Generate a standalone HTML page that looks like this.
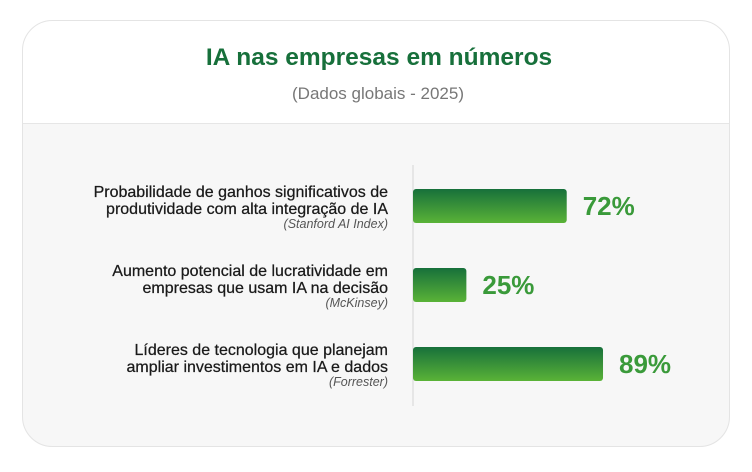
<!DOCTYPE html>
<html><head><meta charset="utf-8"><style>
body{margin:0;background:#fff;font-family:"Liberation Sans",sans-serif;}
</style></head><body>
<svg width="752" height="467" xmlns="http://www.w3.org/2000/svg" id="chart">
<defs>
<linearGradient id="g" x1="0" y1="0" x2="0" y2="1"><stop offset="0" stop-color="#17703b"/><stop offset="1" stop-color="#5ab337"/></linearGradient>
<clipPath id="cc"><rect x="22" y="20" width="708" height="427" rx="30"/></clipPath>
</defs>
<g clip-path="url(#cc)">
<rect x="22" y="20" width="708" height="427" fill="#f7f7f7"/>
<rect x="22" y="20" width="708" height="103" fill="#fff"/>
<line x1="22" y1="123.5" x2="730" y2="123.5" stroke="#e6e6e6"/>
</g>
<rect x="22.5" y="20.5" width="707" height="426" rx="30" fill="none" stroke="#e4e4e4"/>
<text x="379" y="65" text-anchor="middle" font-size="24.5" font-weight="bold" fill="#17703b">IA nas empresas em números</text>
<text x="378" y="99" text-anchor="middle" font-size="17" fill="#777">(Dados globais - 2025)</text>
<line x1="413" y1="165" x2="413" y2="406" stroke="#e0e0e0" stroke-width="1.5"/>
<g id="bars"></g>
</svg>
<script>
const line1 = ["Probabilidade de ganhos significativos de","Aumento potencial de lucratividade em","Líderes de tecnologia que planejam"];
const line2 = ["produtividade com alta integração de IA","empresas que usam IA na decisão","ampliar investimentos em IA e dados"];
const sources = ["(Stanford AI Index)","(McKinsey)","(Forrester)"];
const values = [72,25,89];
const NS="http://www.w3.org/2000/svg";
const g=document.getElementById('bars');
const x0=413, pxPer=2.135, y0=189, step=79, bh=34;
const xs=v=>x0+v*pxPer;
function mk(tag,attrs,txt){const e=document.createElementNS(NS,tag);for(const k in attrs)e.setAttribute(k,attrs[k]);if(txt!==undefined)e.textContent=txt;g.appendChild(e);return e;}
values.forEach((v,i)=>{
  const y=y0+i*step;
  const b=mk('rect',{x:x0,y:y,width:xs(v)-x0,height:bh,rx:3,fill:'url(#g)'});
  
  
  const t=mk('text',{x:xs(v)+16,y:y+bh/2+9,'font-size':26,'font-weight':'bold',fill:'#3a9a3a'},v+'%');
  
  
  const a=mk('text',{x:388,y:y+8,'text-anchor':'end','font-size':16,fill:'#1a1a1a',stroke:'#1a1a1a','stroke-width':0.25},line1[i]);
  
  
  const b2=mk('text',{x:388,y:y+25,'text-anchor':'end','font-size':16,fill:'#1a1a1a',stroke:'#1a1a1a','stroke-width':0.25},line2[i]);
  
  
  const s=mk('text',{x:388,y:y+39,'text-anchor':'end','font-size':12.5,'font-style':'italic',fill:'#555'},sources[i]);
  
  
});
</script>
</body></html>
